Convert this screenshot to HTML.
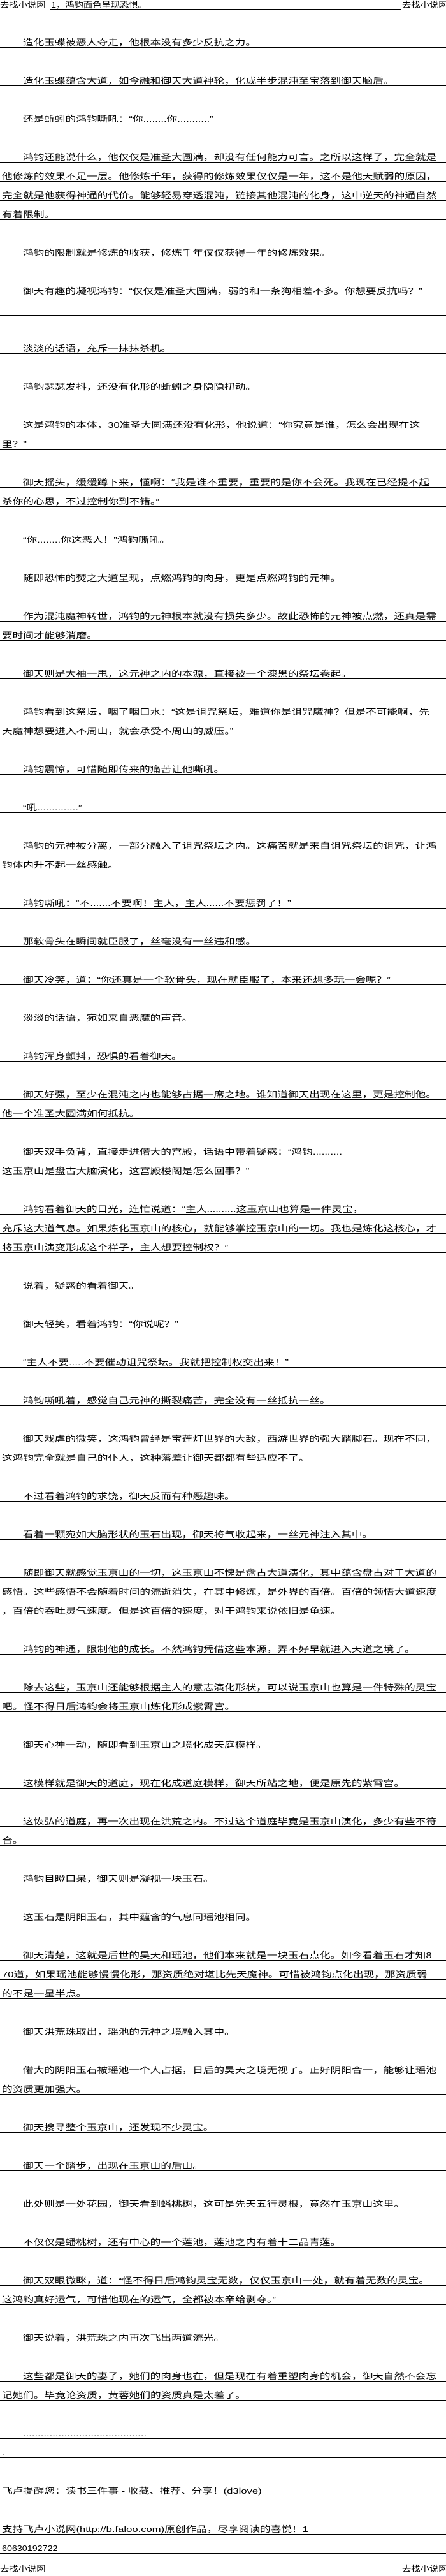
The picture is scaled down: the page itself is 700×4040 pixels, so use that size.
<!DOCTYPE html>
<html><head><meta charset="utf-8">
<style>
html,body{margin:0;padding:0;background:#fff;}
body{width:700px;height:4040px;position:relative;overflow:hidden;font-family:"Liberation Sans","WenQuanYi Zen Hei","Noto Sans CJK SC",sans-serif;color:#000;}
.r{position:absolute;left:0;width:700px;height:15px;border-bottom:1px solid #000;}
.r span{position:absolute;bottom:1px;left:36px;font-size:13px;line-height:13px;white-space:nowrap;transform:scaleX(1.28);transform-origin:0 100%;}
.r.c span{left:3px;}
.h{position:absolute;font-size:13px;line-height:13px;white-space:nowrap;transform:scaleX(1.1);transform-origin:0 0;}
</style></head><body>
<div class="h" style="left:0;top:1px">去找小说网</div>
<div style="position:absolute;left:79px;top:14px;width:550px;height:1px;background:#000"></div>
<div class="h" style="left:80px;top:1px">1，鸿钧面色呈现恐惧。</div>
<div class="h" style="left:631px;top:1px">去找小说网</div>

<div class="r" style="top:59px"><span>造化玉蝶被恶人夺走，他根本没有多少反抗之力。</span></div>
<div class="r" style="top:119px"><span>造化玉蝶蕴含大道，如今融和御天大道神轮，化成半步混沌至宝落到御天脑后。</span></div>
<div class="r" style="top:179px"><span>还是蚯蚓的鸿钧嘶吼：“你........你...........”</span></div>
<div class="r" style="top:239px"><span>鸿钧还能说什么，他仅仅是准圣大圆满，却没有任何能力可言。之所以这样子，完全就是</span></div>
<div class="r c" style="top:269px"><span>他修炼的效果不足一层。他修炼千年，获得的修炼效果仅仅是一年，这不是他天赋弱的原因，</span></div>
<div class="r c" style="top:299px"><span>完全就是他获得神通的代价。能够轻易穿透混沌，链接其他混沌的化身，这中逆天的神通自然</span></div>
<div class="r c" style="top:329px"><span>有着限制。</span></div>
<div class="r" style="top:389px"><span>鸿钧的限制就是修炼的收获，修炼千年仅仅获得一年的修炼效果。</span></div>
<div class="r" style="top:449px"><span>御天有趣的凝视鸿钧：“仅仅是准圣大圆满，弱的和一条狗相差不多。你想要反抗吗？”</span></div>
<div class="r" style="top:479px"><span></span></div>
<div class="r" style="top:539px"><span>淡淡的话语，充斥一抹抹杀机。</span></div>
<div class="r" style="top:599px"><span>鸿钧瑟瑟发抖，还没有化形的蚯蚓之身隐隐扭动。</span></div>
<div class="r" style="top:659px"><span>这是鸿钧的本体，30准圣大圆满还没有化形，他说道：“你究竟是谁，怎么会出现在这</span></div>
<div class="r c" style="top:689px"><span>里？”</span></div>
<div class="r" style="top:749px"><span>御天摇头，缓缓蹲下来，懂啊：“我是谁不重要，重要的是你不会死。我现在已经提不起</span></div>
<div class="r c" style="top:779px"><span>杀你的心思，不过控制你到不错。”</span></div>
<div class="r" style="top:839px"><span>“你........你这恶人！”鸿钧嘶吼。</span></div>
<div class="r" style="top:899px"><span>随即恐怖的焚之大道呈现，点燃鸿钧的肉身，更是点燃鸿钧的元神。</span></div>
<div class="r" style="top:959px"><span>作为混沌魔神转世，鸿钧的元神根本就没有损失多少。故此恐怖的元神被点燃，还真是需</span></div>
<div class="r c" style="top:989px"><span>要时间才能够消磨。</span></div>
<div class="r" style="top:1049px"><span>御天则是大袖一甩，这元神之内的本源，直接被一个漆黑的祭坛卷起。</span></div>
<div class="r" style="top:1109px"><span>鸿钧看到这祭坛，咽了咽口水：“这是诅咒祭坛，难道你是诅咒魔神？但是不可能啊，先</span></div>
<div class="r c" style="top:1139px"><span>天魔神想要进入不周山，就会承受不周山的威压。”</span></div>
<div class="r" style="top:1199px"><span>鸿钧震惊，可惜随即传来的痛苦让他嘶吼。</span></div>
<div class="r" style="top:1259px"><span>“吼..............”</span></div>
<div class="r" style="top:1319px"><span>鸿钧的元神被分离，一部分融入了诅咒祭坛之内。这痛苦就是来自诅咒祭坛的诅咒，让鸿</span></div>
<div class="r c" style="top:1349px"><span>钧体内升不起一丝感触。</span></div>
<div class="r" style="top:1409px"><span>鸿钧嘶吼：“不.......不要啊！主人，主人......不要惩罚了！”</span></div>
<div class="r" style="top:1469px"><span>那软骨头在瞬间就臣服了，丝毫没有一丝违和感。</span></div>
<div class="r" style="top:1529px"><span>御天冷笑，道：“你还真是一个软骨头，现在就臣服了，本来还想多玩一会呢？”</span></div>
<div class="r" style="top:1589px"><span>淡淡的话语，宛如来自恶魔的声音。</span></div>
<div class="r" style="top:1649px"><span>鸿钧浑身颤抖，恐惧的看着御天。</span></div>
<div class="r" style="top:1709px"><span>御天好强，至少在混沌之内也能够占据一席之地。谁知道御天出现在这里，更是控制他。</span></div>
<div class="r c" style="top:1739px"><span>他一个准圣大圆满如何抵抗。</span></div>
<div class="r" style="top:1799px"><span>御天双手负背，直接走进偌大的宫殿，话语中带着疑惑：“鸿钧..........</span></div>
<div class="r c" style="top:1829px"><span>这玉京山是盘古大脑演化，这宫殿楼阁是怎么回事？”</span></div>
<div class="r" style="top:1889px"><span>鸿钧看着御天的目光，连忙说道：“主人..........这玉京山也算是一件灵宝，</span></div>
<div class="r c" style="top:1919px"><span>充斥这大道气息。如果炼化玉京山的核心，就能够掌控玉京山的一切。我也是炼化这核心，才</span></div>
<div class="r c" style="top:1949px"><span>将玉京山演变形成这个样子，主人想要控制权？”</span></div>
<div class="r" style="top:2009px"><span>说着，疑惑的看着御天。</span></div>
<div class="r" style="top:2069px"><span>御天轻笑，看着鸿钧：“你说呢？”</span></div>
<div class="r" style="top:2129px"><span>“主人不要.....不要催动诅咒祭坛。我就把控制权交出来！”</span></div>
<div class="r" style="top:2189px"><span>鸿钧嘶吼着，感觉自己元神的撕裂痛苦，完全没有一丝抵抗一丝。</span></div>
<div class="r" style="top:2249px"><span>御天戏虐的微笑，这鸿钧曾经是宝莲灯世界的大敌，西游世界的强大踏脚石。现在不同，</span></div>
<div class="r c" style="top:2279px"><span>这鸿钧完全就是自己的仆人，这种落差让御天都都有些适应不了。</span></div>
<div class="r" style="top:2339px"><span>不过看着鸿钧的求饶，御天反而有种恶趣味。</span></div>
<div class="r" style="top:2399px"><span>看着一颗宛如大脑形状的玉石出现，御天将气收起来，一丝元神注入其中。</span></div>
<div class="r" style="top:2459px"><span>随即御天就感觉玉京山的一切，这玉京山不愧是盘古大道演化，其中蕴含盘古对于大道的</span></div>
<div class="r c" style="top:2489px"><span>感悟。这些感悟不会随着时间的流逝消失，在其中修炼，是外界的百倍。百倍的领悟大道速度</span></div>
<div class="r c" style="top:2519px"><span>，百倍的吞吐灵气速度。但是这百倍的速度，对于鸿钧来说依旧是龟速。</span></div>
<div class="r" style="top:2579px"><span>鸿钧的神通，限制他的成长。不然鸿钧凭借这些本源，弄不好早就进入天道之境了。</span></div>
<div class="r" style="top:2639px"><span>除去这些，玉京山还能够根据主人的意志演化形状，可以说玉京山也算是一件特殊的灵宝</span></div>
<div class="r c" style="top:2669px"><span>吧。怪不得日后鸿钧会将玉京山炼化形成紫霄宫。</span></div>
<div class="r" style="top:2729px"><span>御天心神一动，随即看到玉京山之境化成天庭模样。</span></div>
<div class="r" style="top:2789px"><span>这模样就是御天的道庭，现在化成道庭模样，御天所站之地，便是原先的紫霄宫。</span></div>
<div class="r" style="top:2849px"><span>这恢弘的道庭，再一次出现在洪荒之内。不过这个道庭毕竟是玉京山演化，多少有些不符</span></div>
<div class="r c" style="top:2879px"><span>合。</span></div>
<div class="r" style="top:2939px"><span>鸿钧目瞪口呆，御天则是凝视一块玉石。</span></div>
<div class="r" style="top:2999px"><span>这玉石是阴阳玉石，其中蕴含的气息同瑶池相同。</span></div>
<div class="r" style="top:3059px"><span>御天清楚，这就是后世的昊天和瑶池，他们本来就是一块玉石点化。如今看着玉石才知8</span></div>
<div class="r c" style="top:3089px"><span>70道，如果瑶池能够慢慢化形，那资质绝对堪比先天魔神。可惜被鸿钧点化出现，那资质弱</span></div>
<div class="r c" style="top:3119px"><span>的不是一星半点。</span></div>
<div class="r" style="top:3179px"><span>御天洪荒珠取出，瑶池的元神之境融入其中。</span></div>
<div class="r" style="top:3239px"><span>偌大的阴阳玉石被瑶池一个人占据，日后的昊天之境无视了。正好阴阳合一，能够让瑶池</span></div>
<div class="r c" style="top:3269px"><span>的资质更加强大。</span></div>
<div class="r" style="top:3329px"><span>御天搜寻整个玉京山，还发现不少灵宝。</span></div>
<div class="r" style="top:3389px"><span>御天一个踏步，出现在玉京山的后山。</span></div>
<div class="r" style="top:3449px"><span>此处则是一处花园，御天看到蟠桃树，这可是先天五行灵根，竟然在玉京山这里。</span></div>
<div class="r" style="top:3509px"><span>不仅仅是蟠桃树，还有中心的一个莲池，莲池之内有着十二品青莲。</span></div>
<div class="r" style="top:3569px"><span>御天双眼微眯，道：“怪不得日后鸿钧灵宝无数，仅仅玉京山一处，就有着无数的灵宝。</span></div>
<div class="r c" style="top:3599px"><span>这鸿钧真好运气，可惜他现在的运气，全都被本帝给剥夺。”</span></div>
<div class="r" style="top:3659px"><span>御天说着，洪荒珠之内再次飞出两道流光。</span></div>
<div class="r" style="top:3719px"><span>这些都是御天的妻子，她们的肉身也在，但是现在有着重塑肉身的机会，御天自然不会忘</span></div>
<div class="r c" style="top:3749px"><span>记她们。毕竟论资质，黄蓉她们的资质真是太差了。</span></div>
<div class="r" style="top:3809px"><span>..........................................</span></div>
<div class="r c" style="top:3839px"><span>.</span></div>
<div class="r c" style="top:3899px"><span>飞卢提醒您：读书三件事 - 收藏、推荐、分享！(d3love)</span></div>
<div class="r c" style="top:3959px"><span>支持飞卢小说网(http://b.faloo.com)原创作品，尽享阅读的喜悦！1</span></div>
<div class="r c" style="top:3989px"><span style="transform:scaleX(1.1)">60630192722</span></div>

<div class="h" style="left:0;top:4022px">去找小说网</div>
<div class="h" style="left:631px;top:4022px">去找小说网</div>
</body></html>
